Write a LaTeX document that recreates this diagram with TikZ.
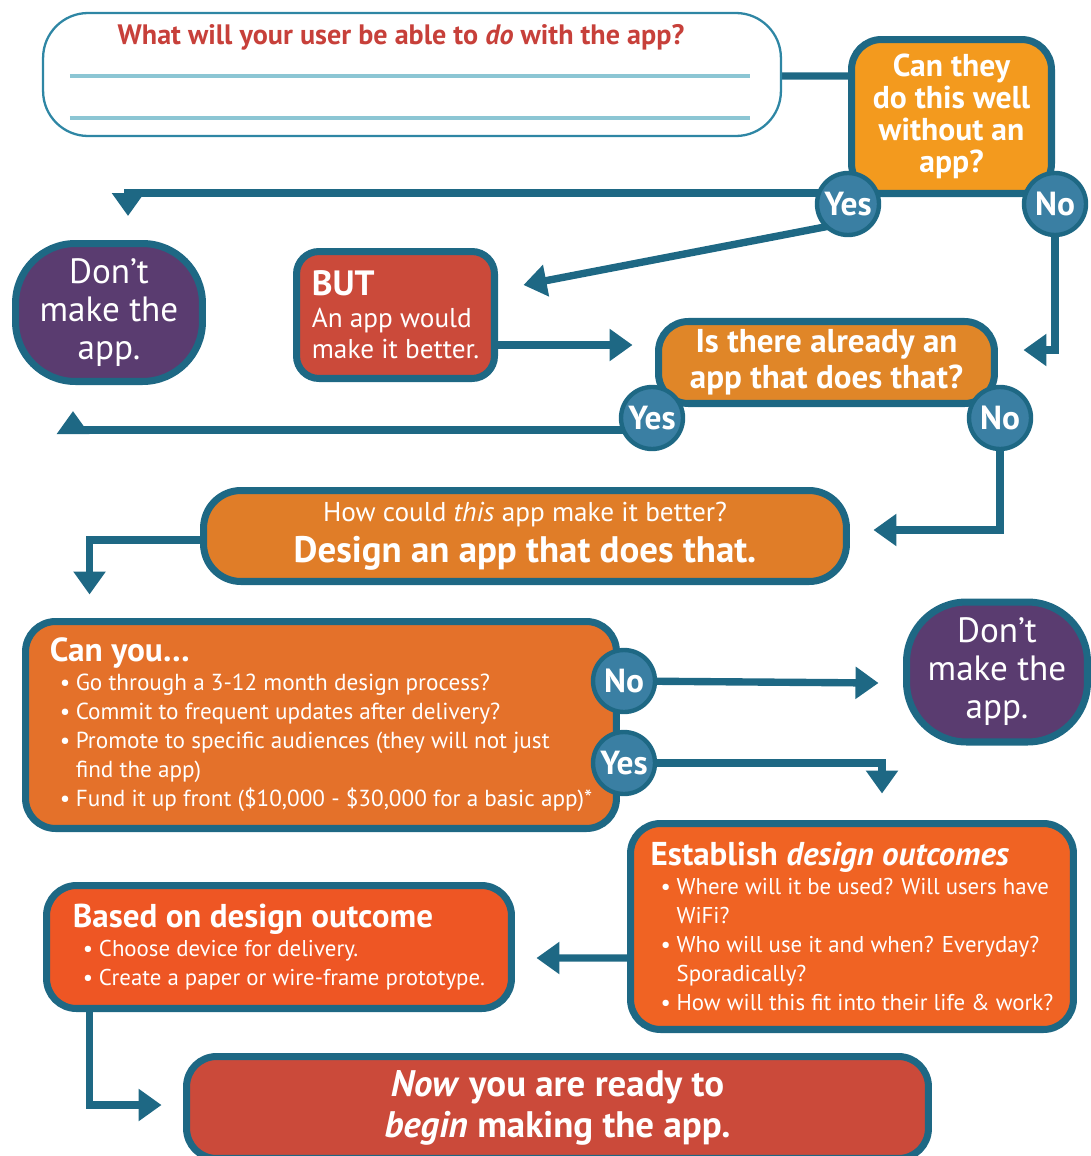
\documentclass[tikz,border=0pt]{standalone}
\usepackage{fontspec}
\setmainfont{PT Sans}
\usetikzlibrary{arrows.meta,calc,backgrounds}

\definecolor{edge}{RGB}{30,104,132}
\definecolor{wire}{RGB}{46,134,164}
\definecolor{rule}{RGB}{140,198,212}
\definecolor{askred}{RGB}{199,64,58}
\definecolor{dot}{RGB}{58,127,163}
\definecolor{plum}{RGB}{90,60,112}
\definecolor{amber}{RGB}{243,154,30}
\definecolor{ochre}{RGB}{224,134,40}
\definecolor{carrot}{RGB}{224,125,40}
\definecolor{tangerine}{RGB}{228,113,42}
\definecolor{flame}{RGB}{240,99,35}
\definecolor{vermil}{RGB}{238,86,36}
\definecolor{brick}{RGB}{203,74,58}

\newcommand{\fs}[2]{\fontsize{#1}{#2}\selectfont}
\newcommand{\bl}{\hspace*{0.2cm}\makebox[0.32cm][l]{•}}
\newcommand{\ind}{\hspace*{0.52cm}}

\begin{document}
\begin{tikzpicture}[x=0.02cm,y=-0.02cm,
  box/.style={draw=edge,line width=4pt,rounded corners=0.6cm,text=white,inner sep=0pt},
  dont/.style={box,fill=plum,rounded corners=1.2cm,align=center,font=\fs{20}{21.6}},
  ans/.style={circle,draw=edge,fill=dot,line width=2.5pt,minimum size=1.24cm,inner sep=0pt,text=white,font=\bfseries\fs{19}{19}},
  link/.style={draw=edge,line width=4.2pt},
  arr/.style={link,-{Triangle[width=0.62cm,length=0.46cm]}}]
\useasboundingbox (0,0) rectangle (1091,1156);

\node[draw=wire,line width=1.3pt,fill=white,rounded corners=0.9cm,minimum width=14.76cm,minimum height=2.46cm] (q0) at (412,74.5) {};
\node[text=askred,font=\bfseries\fs{16}{16}] (ask) at (401,37) {What will your user be able to \emph{do} with the app?};
\draw[rule,line width=1.8pt] ($(q0.west)+(28,1.5)$) -- ($(q0.east)+(-32,1.5)$);
\draw[rule,line width=1.8pt] ($(q0.west)+(28,43.5)$) -- ($(q0.east)+(-32,43.5)$);

\node[box,fill=amber,minimum width=4cm,minimum height=3.08cm,align=center,font=\bfseries\fs{18}{18.2}] (q1) at (951.5,116.5) {Can they\\do this well\\without an\\app?};
\node[dont,minimum width=3.74cm,minimum height=2.76cm] (dont1) at (109,312.5) {Don’t\\make the\\app.};
\node[box,fill=brick,rounded corners=0.45cm,minimum width=3.96cm,minimum height=2.54cm,align=left,font=\fs{15.5}{18}] (but) at (395.5,315) {{\bfseries\fs{20}{18}BUT}\\An app would\\make it better.};
\node[box,fill=ochre,minimum width=6.72cm,minimum height=1.64cm,align=center,font=\bfseries\fs{18.8}{20.5}] (q2) at (826.5,362.5) {Is there already an\\app that does that?};
\node[box,fill=carrot,rounded corners=0.75cm,minimum width=12.86cm,minimum height=1.82cm,align=center,font=\fs{21}{23.3}] (q3) at (525,536) {\fs{15.5}{23.3}How could \emph{this} app make it better?\\\bfseries\fs{21}{23.3}Design an app that does that.};
\node[box,fill=tangerine,minimum width=11.82cm,minimum height=4.14cm,align=left,font=\fs{13.2}{16.5}] (q4) at (321,725) {{\bfseries\fs{19}{17}Can you…}\\
\bl Go through a 3-12 month design process?\\
\bl Commit to frequent updates after delivery?\\
\bl Promote to specific audiences (they will not just\\
\ind find the app)\\
\bl Fund it up front (\$10,000 - \$30,000 for a basic app)*};
\node[dont,minimum width=3.62cm,minimum height=2.8cm] (dont2) at (997,672) {Don’t\\make the\\app.};
\node[box,fill=flame,minimum width=8.86cm,minimum height=4.12cm,align=left,font=\fs{13}{16.5}] (q5) at (852,926.5) {{\bfseries\fs{18.8}{17}Establish \emph{design outcomes}}\\
\bl Where will it be used? Will users have\\
\ind WiFi?\\
\bl Who will use it and when? Everyday?\\
\ind Sporadically?\\
\bl How will this fit into their life \& work?};
\node[box,fill=vermil,minimum width=9.3cm,minimum height=2.46cm,align=left,font=\fs{13}{16.5}] (q6) at (279,947) {{\bfseries\fs{18.8}{17}Based on design outcome}\\
\bl Choose device for delivery.\\
\bl Create a paper or wire-frame prototype.};
\node[box,fill=brick,minimum width=14.84cm,minimum height=2.04cm,align=center,font=\bfseries\fs{21}{23.3}] (q7) at (557.5,1107.5) {\emph{Now} you are ready to\\\emph{begin} making the app.};

\node[ans] (yes1) at (848,204) {Yes};
\node[ans] (no1) at (1055,204) {No};
\node[ans] (yes2) at (652,418) {Yes};
\node[ans] (no2) at (1000,418) {No};
\node[ans] (no3) at (624,681) {No};
\node[ans] (yes3) at (624,763) {Yes};

\begin{scope}[on background layer]
\draw[link] ($(q0.east)+(0,1.5)$) -- ($(q1.west)+(0,-40.5)$);
\draw[arr] ($(yes1)+(0,-11)$) -| ($(dont1.north)+(19,-24)$);
\draw[arr] ($(yes1)+(-13,21)$) -- ($(but.east)+(25.5,-30)$);
\draw[arr] (no1) |- ($(q2.east)+(25.5,-12.5)$);
\draw[arr] ($(but.east)+(0,30)$) -- ($(q2.west)+(-22.5,-17.5)$);
\draw[arr] ($(yes2)+(0,12)$) -| ($(dont1.south)+(-36,26)$);
\draw[arr] (no2) |- ($(q3.east)+(23.5,-6)$);
\draw[arr] ($(q3.west)+(0,4)$) -| ($(q4.north west)+(67.5,-23.5)$);
\draw[arr] (no3) -- ($(no3 -| dont2.west)+(-24.5,2)$);
\draw[arr] (yes3) -| ($(q5.north)+(30,-26.5)$);
\draw[arr] ($(q5.west)+(0,31.5)$) -- ($(q6.east)+(21.5,11)$);
\draw[arr] ($(q6.south west)+(46.5,0)$) |- ($(q7.west)+(-21.5,-2.5)$);
\end{scope}
\end{tikzpicture}
\end{document}
